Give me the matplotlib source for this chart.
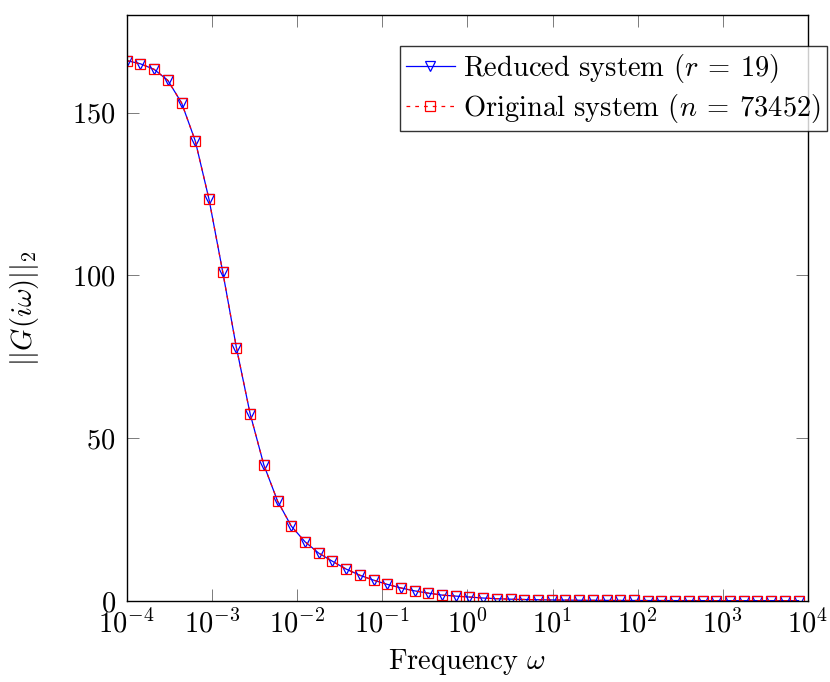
import numpy as np
import matplotlib.pyplot as plt

plt.rcParams['font.family'] = 'serif'
plt.rcParams['font.serif'] = ['cmr10']
plt.rcParams['mathtext.fontset'] = 'cm'
plt.rcParams['axes.unicode_minus'] = False
plt.rcParams['axes.formatter.use_mathtext'] = True

# frequencies (rad/s)
freq = [1.000e-4, 1.449e-4, 2.099e-4, 3.041e-4, 4.406e-4, 6.383e-4, 9.247e-4,
        1.340e-3, 1.941e-3, 2.812e-3, 4.074e-3, 5.902e-3, 8.551e-3,
        1.239e-2, 1.795e-2, 2.600e-2, 3.767e-2, 5.458e-2, 7.907e-2,
        0.1146, 0.1660, 0.2404, 0.3483, 0.5047, 0.7311,
        1.059, 1.535, 2.223, 3.221, 4.667, 6.761, 9.795,
        14.19, 20.56, 29.79, 43.15, 62.52, 90.57,
        131.2, 190.1, 275.4, 399.0, 578.1, 837.5,
        1213, 1758, 2547, 3690, 5346, 7745]

# ||G(iw)||_2 of the original model
g_original = [166.0, 165.0, 163.3, 159.9, 153.0, 141.3, 123.4, 101.1, 77.8,
              57.5, 41.8, 30.7, 23.0, 18.2, 14.7, 12.2, 9.8, 7.9, 6.4, 5.1,
              4.0, 3.1, 2.4, 1.8, 1.5, 1.2, 0.9, 0.7, 0.55, 0.45, 0.38, 0.32,
              0.27, 0.23, 0.2, 0.18, 0.16, 0.15, 0.14, 0.13, 0.12, 0.12, 0.11,
              0.11, 0.1, 0.1, 0.1, 0.1, 0.1, 0.1]

# reduced model (visually identical)
g_reduced = [166.0, 165.0, 163.3, 159.9, 153.0, 141.3, 123.4, 101.1, 77.8,
             57.5, 41.8, 30.7, 23.0, 18.2, 14.7, 12.2, 9.8, 7.9, 6.4, 5.1,
             4.0, 3.1, 2.4, 1.8, 1.5, 1.2, 0.9, 0.7, 0.55, 0.45, 0.38, 0.32,
             0.27, 0.23, 0.2, 0.18, 0.16, 0.15, 0.14, 0.13, 0.12, 0.12, 0.11,
             0.11, 0.1, 0.1, 0.1, 0.1, 0.1, 0.1]

fs = 20.5

fig = plt.figure(figsize=(8.3, 6.82), dpi=100)
ax = fig.add_axes([0.1527, 0.1188, 0.8208, 0.8592])

ax.plot(freq, g_reduced, color='blue', lw=0.9, marker='v', ms=7,
        mfc='none', mec='blue', mew=0.9, label=r'Reduced system ($r\:=\:19$)')
ax.plot(freq, g_original, color='red', lw=0.9, linestyle=(0, (3, 4)),
        marker='s', ms=7, mfc='none', mec='red', mew=0.9,
        label=r'Original system ($n\:=\:73452$)')

ax.set_xscale('log')
ax.set_xlim(1e-4, 1e4)
ax.set_ylim(0, 180)
ax.set_xticks([10.0**k for k in range(-4, 5)])
ax.set_yticks([0, 50, 100, 150])

ax.tick_params(which='both', direction='in', top=True, right=True,
               color='0.4', labelsize=fs)
ax.tick_params(which='major', length=8.5, width=0.6)
ax.tick_params(which='minor', length=5, width=0.6)
ax.tick_params(axis='x', pad=6)
ax.tick_params(axis='y', pad=8)
for s in ax.spines.values():
    s.set_linewidth(1.0)

ax.set_xlabel(r'Frequency $\omega$', fontsize=fs, labelpad=6)
ax.set_ylabel(r'$||G(i\omega)||_2$', fontsize=fs, labelpad=22)

leg = ax.legend(loc='upper left', bbox_to_anchor=(400 / 830, 1 - 46 / 682),
                bbox_transform=fig.transFigure, fontsize=fs, frameon=True,
                fancybox=False, edgecolor='black', borderpad=0.22,
                handlelength=1.7, handletextpad=0.3, labelspacing=0.22,
                borderaxespad=0)
leg.get_frame().set_linewidth(1.0)
leg.set_clip_on(False)

fig.savefig('out.png', dpi=100)
